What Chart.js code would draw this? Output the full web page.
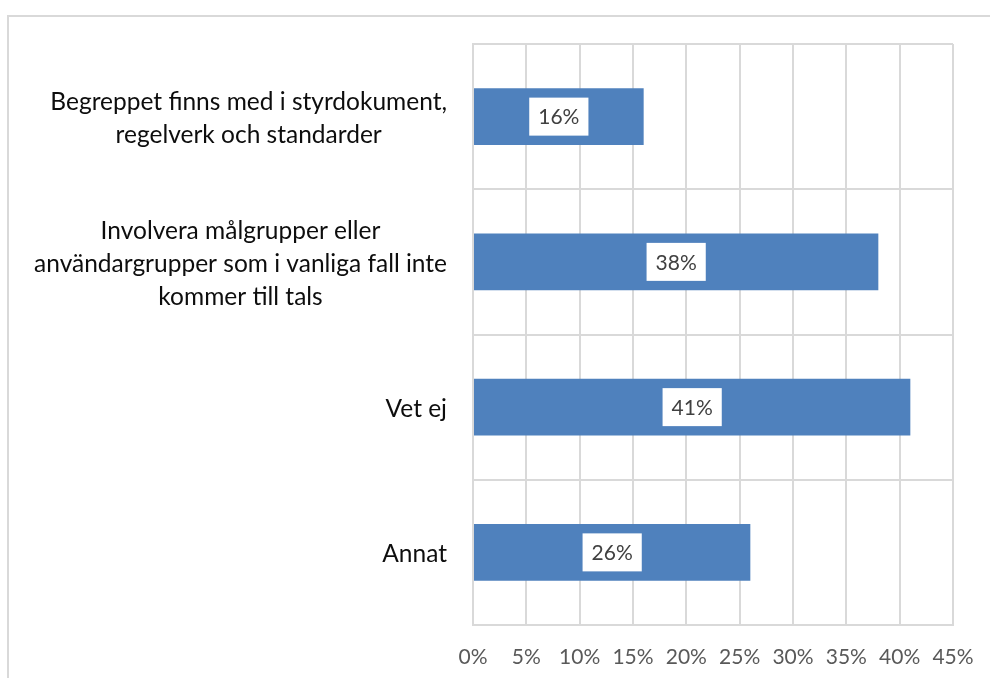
<!DOCTYPE html>
<html>
<head>
<meta charset="utf-8">
<script src="https://cdn.jsdelivr.net/npm/chart.js@4"></script>
<style>
  body { margin: 0; background: #fff; }
</style>
</head>
<body>
<canvas id="chart" width="990" height="678"></canvas>
<script>
const categories = [
    ['Begreppet finns med i styrdokument,', 'regelverk och standarder'],
    ['Involvera målgrupper eller', 'användargrupper som i vanliga fall inte', 'kommer till tals'],
    ['Vet ej'],
    ['Annat']
]
const values = [16, 38, 41, 26]
const tickValues = [0, 5, 10, 15, 20, 25, 30, 35, 40, 45]

const catFont = '24.5px Lato, "Open Sans", sans-serif'
const valueFont = '21px Lato, "Open Sans", sans-serif'

// Outer frame like the original (top and left edges)
const framePlugin = {
    id: 'frame',
    beforeDraw(chart) {
        const ctx = chart.ctx
        ctx.save()
        ctx.strokeStyle = '#d9d9d9'
        ctx.lineWidth = 2
        ctx.beginPath()
        ctx.moveTo(8, 678)
        ctx.lineTo(8, 16)
        ctx.lineTo(990, 16)
        ctx.stroke()
        ctx.restore()
    }
}

// Category labels: block right aligned to the axis, lines centred in block
const catLabelPlugin = {
    id: 'catLabels',
    afterDraw(chart) {
        const ctx = chart.ctx
        const y = chart.scales.y
        ctx.save()
        ctx.font = catFont
        ctx.fillStyle = '#0d0d0d'
        ctx.textAlign = 'center'
        ctx.textBaseline = 'middle'
        const lineH = 33
        categories.forEach((lines, i) => {
            const maxW = Math.max(...lines.map(l => ctx.measureText(l).width))
            const right = y.right - 26
            const cx = right - maxW / 2
            const cy = y.getPixelForTick(i) + 2
            lines.forEach((l, j) => {
                ctx.fillText(l, cx, cy + (j - (lines.length - 1) / 2) * lineH)
            })
        })
        ctx.restore()
    }
}

// Value labels in white boxes inside the bars
const valueLabelPlugin = {
    id: 'valueLabels',
    afterDatasetsDraw(chart) {
        const ctx = chart.ctx
        const meta = chart.getDatasetMeta(0)
        ctx.save()
        ctx.font = valueFont
        ctx.textAlign = 'center'
        ctx.textBaseline = 'middle'
        meta.data.forEach((bar, i) => {
            const text = values[i] + '%'
            const cx = (bar.x + bar.base) / 2
            const cy = bar.y
            const w = ctx.measureText(text).width + 18
            const h = 38
            ctx.fillStyle = '#ffffff'
            ctx.fillRect(cx - w / 2, cy - h / 2, w, h)
            ctx.fillStyle = '#404040'
            ctx.fillText(text, cx, cy + 1)
        })
        ctx.restore()
    }
}

const ctx = document.querySelector('#chart').getContext('2d')

new Chart(ctx, {
    type: 'bar',
    data: {
        labels: categories.map(c => c.join(' ')),
        datasets: [{
            data: values,
            backgroundColor: '#4f81bd',
            borderWidth: 0,
            barPercentage: 0.39,
            categoryPercentage: 1
        }]
    },
    options: {
        indexAxis: 'y',
        responsive: false,
        animation: false,
        layout: { padding: { top: 44, right: 37, left: 0, bottom: 0 } },
        plugins: {
            legend: { display: false },
            tooltip: { enabled: false }
        },
        scales: {
            x: {
                min: 0,
                max: 45,
                afterBuildTicks(scale) {
                    scale.ticks = tickValues.map(v => ({ value: v }))
                },
                afterFit(scale) {
                    scale.height = 53
                    scale.paddingLeft = 0
                    scale.paddingRight = 0
                },
                grid: { color: '#d9d9d9', lineWidth: 2, drawTicks: false },
                border: { color: '#d9d9d9', width: 2 },
                ticks: {
                    padding: 20,
                    maxRotation: 0,
                    color: '#595959',
                    font: { family: 'Lato, "Open Sans", sans-serif', size: 21 },
                    callback: v => v + '%'
                }
            },
            y: {
                afterFit(scale) { scale.width = 473 },
                grid: { color: '#d9d9d9', lineWidth: 2, offset: true, drawTicks: false },
                border: { color: '#d9d9d9', width: 2 },
                ticks: { display: false }
            }
        }
    },
    plugins: [framePlugin, catLabelPlugin, valueLabelPlugin]
})
</script>
</body>
</html>
